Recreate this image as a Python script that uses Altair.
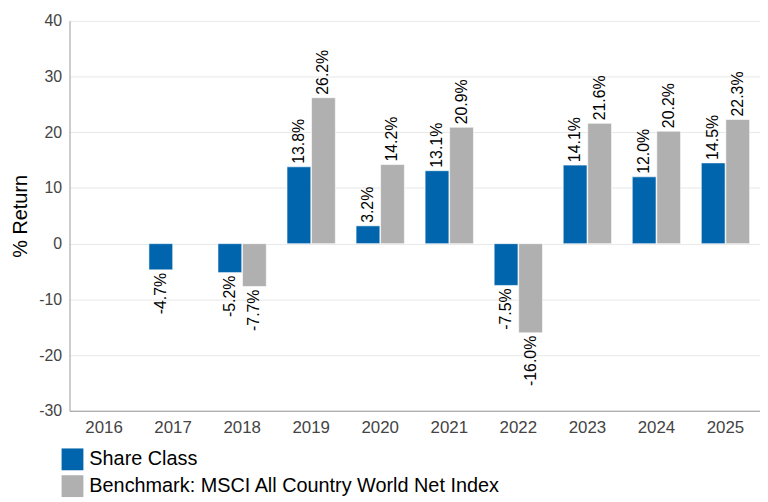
import altair as alt
import pandas as pd

years = ["2016", "2017", "2018", "2019", "2020", "2021", "2022", "2023", "2024", "2025"]
series_names = ["Share Class", "Benchmark: MSCI All Country World Net Index"]
share_class = [None, -4.7, -5.2, 13.8, 3.2, 13.1, -7.5, 14.1, 12.0, 14.5]
benchmark = [None, None, -7.7, 26.2, 14.2, 20.9, -16.0, 21.6, 20.2, 22.3]
colors = ["#0065AC", "#B0B0B0"]
y_ticks = [-30, -20, -10, 0, 10, 20, 30, 40]

rows = []
for name, vals in zip(series_names, [share_class, benchmark]):
    for y, v in zip(years, vals):
        if v is not None:
            rows.append({"year": y, "series": name, "value": v, "label": f"{v:.1f}%"})
df = pd.DataFrame(rows)

x_scale = alt.Scale(domain=years, paddingInner=0.3, paddingOuter=0.15)
x_enc = alt.X("year:N", scale=x_scale,
              axis=alt.Axis(title=None, labelAngle=0, ticks=False, labelFontSize=17,
                            labelColor="#444444", labelPadding=9, domainColor="#999999",
                            labelFont="Liberation Sans", grid=False))
xoff = alt.XOffset("series:N", scale=alt.Scale(domain=series_names, paddingInner=0.03))
y_enc = alt.Y("value:Q", scale=alt.Scale(domain=[-30, 40], nice=False, zero=False),
              axis=alt.Axis(title="% Return", values=y_ticks, labelExpr="datum.value + ''",
                            ticks=False, labelFontSize=16, labelColor="#444444",
                            labelPadding=8, titleFontSize=20, titleColor="#000000",
                            titleFontWeight="normal", titleFont="Liberation Sans",
                            labelFont="Liberation Sans", titlePadding=8,
                            domainColor="#999999", gridColor="#E8E8E8"))

bars = alt.Chart(df).mark_bar(stroke="#ffffff", strokeWidth=0.6).encode(
    x=x_enc,
    xOffset=xoff,
    y=y_enc,
    y2=alt.datum(0),
    color=alt.Color("series:N", scale=alt.Scale(domain=series_names, range=colors),
                    legend=alt.Legend(title=None, orient="none", legendX=-8, legendY=431,
                                      symbolType="square", symbolSize=484,
                                      symbolStrokeWidth=0, labelFontSize=20,
                                      labelFont="Liberation Sans", labelColor="#000000",
                                      labelLimit=0, rowPadding=5, labelOffset=6,
                                      padding=0, direction="vertical")),
)

pos = alt.Chart(df).transform_filter("datum.value >= 0").mark_text(
    angle=270, align="left", baseline="middle", dx=3, fontSize=16,
    font="Liberation Sans", color="#000000"
).encode(x=alt.X("year:N", scale=x_scale), xOffset=xoff, y=alt.Y("value:Q"), text="label:N")

neg = alt.Chart(df).transform_filter("datum.value < 0").mark_text(
    angle=270, align="right", baseline="middle", dx=-3, fontSize=16,
    font="Liberation Sans", color="#000000"
).encode(x=alt.X("year:N", scale=x_scale), xOffset=xoff, y=alt.Y("value:Q"), text="label:N")

chart = alt.layer(bars, pos, neg).properties(
    width=696, height=393,
    autosize=alt.AutoSizeParams(type="none"),
    padding={"left": 62, "top": 11, "right": 0, "bottom": 88},
).configure_view(stroke=None).configure_axis(domainWidth=1)

chart.save("out.html", embed_options={"renderer": "svg", "actions": False})
